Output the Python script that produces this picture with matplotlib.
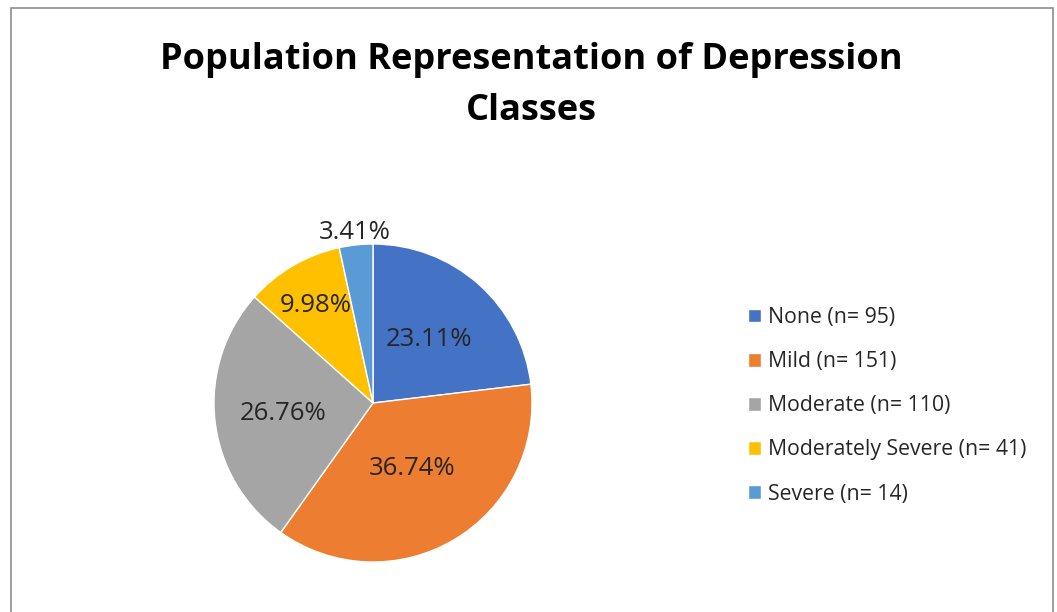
import matplotlib.pyplot as plt
from matplotlib.patches import Rectangle
import numpy as np

categories = ['None', 'Mild', 'Moderate', 'Moderately Severe', 'Severe']
counts = [95, 151, 110, 41, 14]
colors = ['#4472C4', '#ED7D31', '#A5A5A5', '#FFC000', '#5B9BD5']
# distance of each percentage label from the centre (fraction of radius)
label_dist = [0.53, 0.48, 0.57, 0.71, 1.08]

plt.rcParams['font.family'] = ['Open Sans', 'DejaVu Sans']

W, H = 1057, 612
fig = plt.figure(figsize=(W / 100, H / 100), dpi=100)

# chart border
fig.patches.append(Rectangle((11 / W, -0.05), (1053 - 11) / W, 1.05 - 8 / H,
                             transform=fig.transFigure, fill=False,
                             edgecolor='#8c8c8c', linewidth=1.2))

fig.text(531 / W, 1 - 60 / H, 'Population Representation of Depression',
         ha='center', va='center', fontsize=26, fontweight='bold', color='black')
fig.text(531 / W, 1 - 111 / H, 'Classes',
         ha='center', va='center', fontsize=26, fontweight='bold', color='black')

cx, cy, r = 373, 403, 159
ax = fig.add_axes([(cx - r) / W, (H - cy - r) / H, 2 * r / W, 2 * r / H])
wedges, _ = ax.pie(counts, colors=colors, startangle=90, counterclock=False,
                   radius=1, wedgeprops=dict(edgecolor='white', linewidth=1))
ax.set_xlim(-1, 1)
ax.set_ylim(-1, 1)
ax.set_aspect('equal')
ax.axis('off')

total = sum(counts)
for w, c, d in zip(wedges, counts, label_dist):
    ang = np.deg2rad((w.theta1 + w.theta2) / 2)
    ax.text(d * np.cos(ang), d * np.sin(ang), f'{c / total * 100:.2f}%',
            ha='center', va='center', fontsize=18.5, color='#262626')

labels = [f'{n} (n= {c})' for n, c in zip(categories, counts)]
fig.legend(wedges, labels, loc='upper left', bbox_to_anchor=(748 / W, 1 - 307 / H),
           frameon=False, fontsize=15.3, handlelength=0.62, handleheight=0.62,
           handletextpad=0.3, labelspacing=1.09, borderaxespad=0, borderpad=0,
           labelcolor='#262626')

fig.savefig('out.png', dpi=100)
